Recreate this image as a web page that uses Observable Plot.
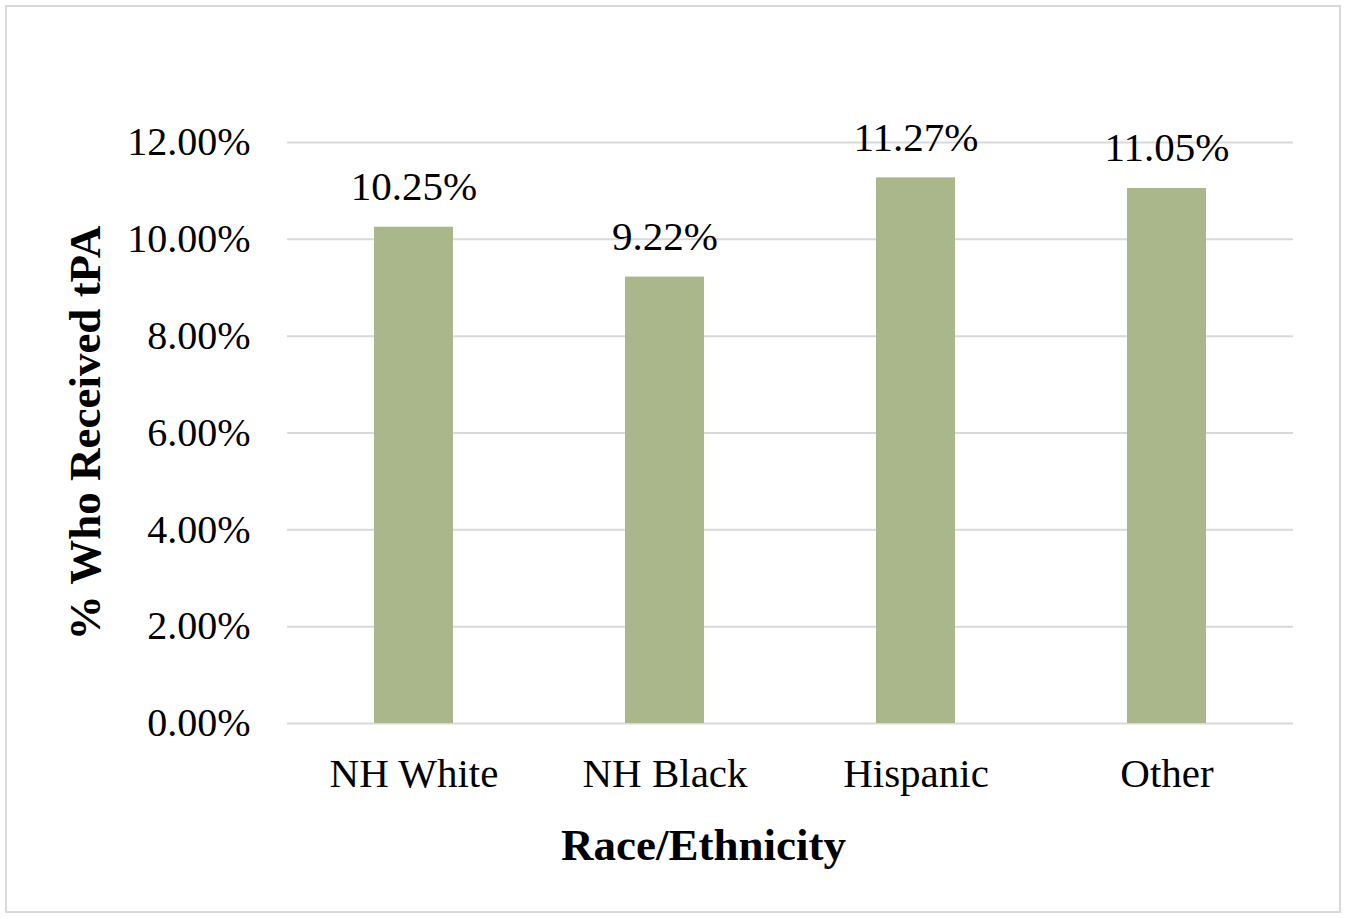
<!DOCTYPE html>
<html>
<head>
<meta charset="utf-8">
<script src="https://cdn.jsdelivr.net/npm/d3@7"></script>
<script src="https://cdn.jsdelivr.net/npm/@observablehq/plot@0.6"></script>
<style>
  html, body { margin: 0; padding: 0; background: #fff; }
  #wrap { position: relative; width: 1346px; height: 919px; }
  #border { position: absolute; left: 5px; top: 5px; width: 1332px; height: 904px; border: 2px solid #d9d9d9; pointer-events: none; }
  #wrap svg text { font-family: "Liberation Serif", "Times New Roman", serif; }
</style>
</head>
<body>
<div id="wrap"><div id="border"></div></div>
<script>
const categories = ["NH White", "NH Black", "Hispanic", "Other"];
const values = [10.25, 9.22, 11.27, 11.05];
const yTicks = [0, 2, 4, 6, 8, 10, 12];
const xTitle = "Race/Ethnicity";
const yTitle = "% Who Received tPA";

const data = categories.map((c, i) => ({ category: c, value: values[i] }));
const serif = "Liberation Serif, Times New Roman, serif";

const chart = Plot.plot({
  width: 1346,
  height: 919,
  marginLeft: 287,
  marginRight: 53,
  marginTop: 142,
  marginBottom: 196,
  style: { fontFamily: serif, fontSize: "40px", color: "#000", background: "transparent" },
  x: { domain: categories, paddingInner: 0.686, paddingOuter: 0.343, label: null },
  y: { domain: [0, 12], label: null },
  marks: [
    Plot.ruleY(yTicks, { stroke: "#d9d9d9", strokeWidth: 2 }),
    Plot.barY(data, { x: "category", y: "value", fill: "#a9b78a" }),
    Plot.text(data, { x: "category", y: "value", text: d => d.value.toFixed(2) + "%", lineAnchor: "bottom", dy: -27, fontSize: 41, fontFamily: serif, fill: "#000" }),
    Plot.axisY(yTicks, { tickSize: 0, tickPadding: 37, tickFormat: d => d.toFixed(2) + "%", fontSize: 40, fontFamily: serif, label: null }),
    Plot.axisX({ tickSize: 0, tickPadding: 34, fontSize: 41, fontFamily: serif, label: null }),
    Plot.text([xTitle], { frameAnchor: "bottom", text: d => d, textAnchor: "middle", lineAnchor: "bottom", dx: -87, dy: 136, fontSize: 45, fontWeight: "bold", fontFamily: serif, fill: "#000" }),
    Plot.text([yTitle], { frameAnchor: "left", text: d => d, textAnchor: "middle", rotate: -90, lineAnchor: "middle", dx: -202, fontSize: 45, fontWeight: "bold", fontFamily: serif, fill: "#000" })
  ]
});
document.getElementById("wrap").appendChild(chart);
</script>
</body>
</html>
